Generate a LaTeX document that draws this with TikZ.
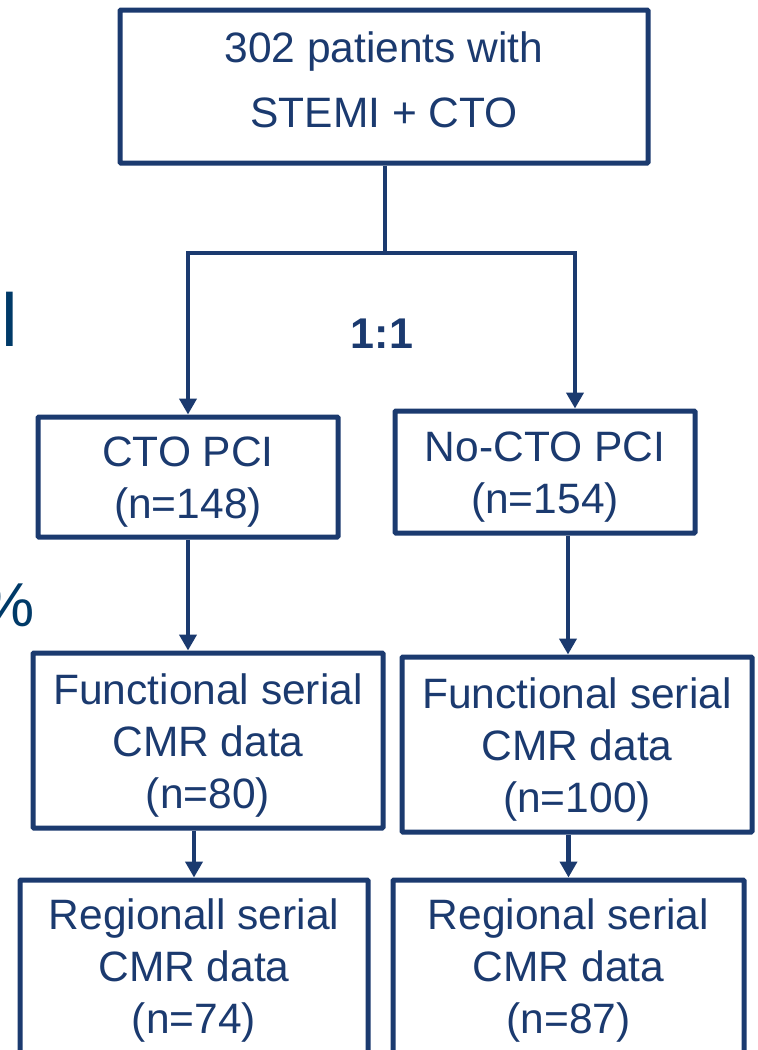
\documentclass[tikz,border=0pt]{standalone}
\usepackage{fontspec}
\setmainfont{Liberation Sans}
\usetikzlibrary{arrows.meta}
\definecolor{navy}{HTML}{1B3A6F}
\definecolor{frag}{HTML}{003A68}
\begin{document}
\begin{tikzpicture}[x=1pt,y=-1pt,
  box/.style={draw=navy, line width=5pt, rounded corners=1pt, inner sep=0pt},
  txt/.style={text=navy, align=center, font=\fontsize{42.5}{52}\selectfont, inner sep=0pt},
  conn/.style={draw=navy, line width=4.8pt},
  arr/.style={conn, -{Triangle[width=17pt,length=16pt]}},
  fragtext/.style={text=frag, inner sep=0pt}]
\useasboundingbox (0,0) rectangle (758,1050);
\clip (0,0) rectangle (758,1050);
\fill[white] (0,0) rectangle (758,1050);

% clipped fragments at the left edge
\node[fragtext, anchor=base east, font=\fontsize{75}{75}\selectfont] (fragl) at (18,346) {l};
\node[fragtext, anchor=base east, font=\fontsize{62}{62}\selectfont] (fragp) at (35,626) {\%};

% boxes
\node[box, minimum width=528pt, minimum height=153pt] (top) at (384,86.5) {};
\node[box, minimum width=300pt, minimum height=120pt] (cto) at (188,477) {};
\node[box, minimum width=300pt, minimum height=122pt] (nocto) at (545,472) {};
\node[box, minimum width=350pt, minimum height=175pt] (funcL) at (208,740.5) {};
\node[box, minimum width=350pt, minimum height=175pt] (funcR) at (577,744.5) {};
\node[box, minimum width=348pt, minimum height=176pt] (regL) at (194,968) {};
\node[box, minimum width=351pt, minimum height=176pt] (regR) at (568.5,968) {};

% texts
\node[txt, font=\fontsize{42.5}{65}\selectfont] (topt) at ([yshift=7pt]top.center) {302 patients with\\STEMI + CTO};
\node[txt] (ctot) at ([yshift=-5pt]cto.center) {CTO PCI\\(n=148)};
\node[txt] (noctot) at ([yshift=-5pt]nocto.center) {No-CTO PCI\\(n=154)};
\node[txt] (funcLt) at ([yshift=-4.5pt]funcL.center) {Functional serial\\CMR data\\(n=80)};
\node[txt] (funcRt) at ([yshift=-4.5pt]funcR.center) {Functional serial\\CMR data\\(n=100)};
\node[txt] (regLt) at ([yshift=-2.5pt]regL.center) {Regionall serial\\CMR data\\(n=74)};
\node[txt] (regRt) at ([yshift=-2.5pt]regR.center) {Regional serial\\CMR data\\(n=87)};

% split
\coordinate (split) at (385,253);
\coordinate (jl) at (188,253);
\coordinate (jr) at (575,253);
\node[text=navy, font=\bfseries\fontsize{43}{43}\selectfont, inner sep=0pt] (ratio) at (382,334) {1:1};

\draw[conn] (split |- top.south) -- (split);
\draw[conn, line cap=rect] (jl) -- (jr);
\draw[arr] (jl) -- (jl |- cto.north);
\draw[arr] (jr) -- (jr |- nocto.north);

\coordinate (c2) at (568,0);
\draw[arr] (cto.south) -- (cto.south |- funcL.north);
\draw[arr] (c2 |- nocto.south) -- (c2 |- funcR.north);
\draw[arr] (regL.north |- funcL.south) -- (regL.north);
\draw[arr] (regR.north |- funcR.south) -- (regR.north);
\end{tikzpicture}
\end{document}
